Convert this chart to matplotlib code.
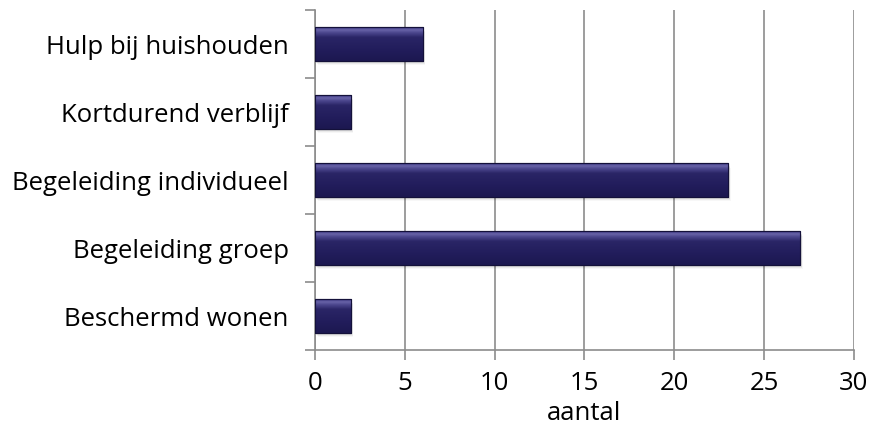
import numpy as np
import matplotlib
matplotlib.use("Agg")
import matplotlib.pyplot as plt
from matplotlib.patches import Rectangle
from matplotlib.colors import LinearSegmentedColormap

plt.rcParams['font.family'] = ['Open Sans', 'DejaVu Sans']

categories = ["Beschermd wonen", "Begeleiding groep", "Begeleiding individueel",
              "Kortdurend verblijf", "Hulp bij huishouden"]
values = [2, 27, 23, 2, 6]
xticks = [0, 5, 10, 15, 20, 25, 30]
xlabel = "aantal"

fig = plt.figure(figsize=(8.69, 4.41), dpi=100)
ax = fig.add_axes([0.3625, 0.2063, 0.6202, 0.7710])

ax.set_xlim(0, 30)
ax.set_ylim(-0.5, len(categories) - 0.5)
ax.set_xticks(xticks)
ax.set_yticks(range(len(categories)))
ax.set_yticklabels(categories)
ax.set_yticks(np.arange(-0.5, len(categories), 1.0), minor=True)

grid_c = "#8c8c8c"
ax.grid(axis="x", color=grid_c, linewidth=1.2)
ax.set_axisbelow(True)
for s in ("top", "right"):
    ax.spines[s].set_visible(False)
for s in ("left", "bottom"):
    ax.spines[s].set_color(grid_c)
    ax.spines[s].set_linewidth(1.2)

fs = 18.5
ax.tick_params(axis="y", which="major", length=0, pad=19, labelsize=fs)
ax.tick_params(axis="y", which="minor", length=7, color=grid_c, width=1.2)
ax.tick_params(axis="x", length=7, color=grid_c, width=1.2, labelsize=fs, pad=8)
ax.set_xlabel(xlabel, fontsize=fs, labelpad=4)

cmap = LinearSegmentedColormap.from_list(
    "bar", [(0.0, "#1c1850"), (0.35, "#221d5c"), (0.7, "#2a2566"),
            (0.85, "#4e4990"), (0.93, "#6b66aa"), (1.0, "#35307a")])
grad = np.linspace(0, 1, 64).reshape(-1, 1)

h = 0.49
for i, v in enumerate(values):
    y0 = i - h / 2
    # soft drop shadow
    for k, a in enumerate([0.10, 0.07, 0.05, 0.03]):
        off = 0.02 + k * 0.015
        ax.add_patch(Rectangle((0.05 + k * 0.03, y0 - off), v, h, facecolor="#000000",
                               edgecolor="none", alpha=a, zorder=2))
    rect = Rectangle((0, y0), v, h, facecolor="#231e5e", edgecolor="#14113a",
                     linewidth=0.8, zorder=3)
    ax.add_patch(rect)
    im = ax.imshow(grad, extent=(0, v, y0, y0 + h), origin="lower", cmap=cmap,
                   aspect="auto", zorder=3.5, interpolation="bicubic")
    im.set_clip_path(rect)
    ax.add_patch(Rectangle((0, y0), v, h, facecolor="none", edgecolor="#14113a",
                           linewidth=0.8, zorder=4))

ax.set_xlim(0, 30)
ax.set_ylim(-0.5, len(categories) - 0.5)
fig.savefig("out.png", dpi=100)
